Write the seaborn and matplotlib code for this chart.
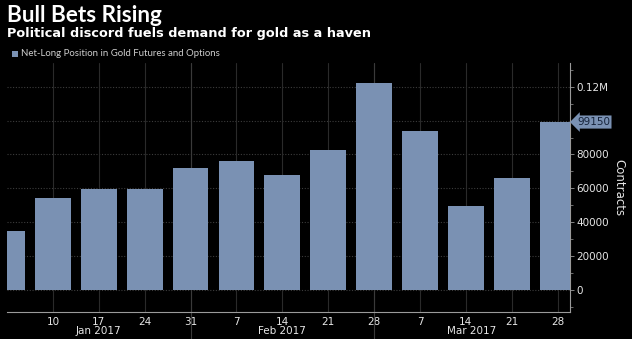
import matplotlib
matplotlib.use("Agg")
import matplotlib.pyplot as plt
from matplotlib.ticker import FixedLocator, MultipleLocator
import seaborn as sns
import pandas as pd

# Weekly net-long position (contracts) in gold futures and options
week_days = ["3", "10", "17", "24", "31", "7", "14", "21", "28", "7", "14", "21", "28"]
week_months = ["Jan", "Jan", "Jan", "Jan", "Jan", "Feb", "Feb", "Feb", "Feb",
               "Mar", "Mar", "Mar", "Mar"]
net_long = [34600, 54300, 59800, 59400, 72000, 75900, 67800, 82600, 121900,
            94000, 49700, 66100, 99150]
month_names = ["Jan 2017", "Feb 2017", "Mar 2017"]
y_ticks = [0, 20000, 40000, 60000, 80000, 100000, 120000]
y_tick_labels = ["0", "20000", "40000", "60000", "80000", "", "0.12M"]

BAR = "#7a91b3"
BG = "black"
TXT = "#e6e6e6"
AX = "#9a9a9a"

df = pd.DataFrame({
    "week": [f"{m} {d}" for m, d in zip(week_months, week_days)],
    "value": net_long,
})

sns.set_theme(style="dark")
plt.rcParams["font.family"] = ["DejaVu Sans"]

fig = plt.figure(figsize=(6.32, 3.39), dpi=100, facecolor=BG)
ax = fig.add_axes([7 / 632, 1 - 312 / 339, 563 / 632, 249 / 339])
ax.set_facecolor(BG)

sns.barplot(data=df, x="week", y="value", color=BAR, saturation=1,
            width=0.78, ax=ax, zorder=3, linewidth=0)

n = len(net_long)
x_right = (n - 1) + 0.27
ax.set_xlim(0, x_right)
ax.set_ylim(-13000, 134000)

# grid
ax.yaxis.tick_right()
ax.yaxis.set_label_position("right")
ax.yaxis.set_major_locator(FixedLocator(y_ticks))
ax.set_yticklabels(y_tick_labels)
ax.yaxis.set_minor_locator(MultipleLocator(10000))
ax.grid(False)
for yv in y_ticks:
    ax.axhline(yv, color="#3c3c3c", lw=0.8, ls=(0, (1, 1.5)), zorder=1)
for i in range(1, n):
    ax.axvline(i, color="#2a2a2a", lw=0.8, zorder=1)

# month separators run down through the date labels
sep_idx = [i for i in range(n - 1) if week_months[i] != week_months[i + 1]]
for i in sep_idx:
    ax.axvline(i, ymin=-0.12, ymax=1, color="#3a3a3a", lw=0.8, zorder=1, clip_on=False)

ax.set_xticks(range(n))
ax.set_xticklabels([""] + week_days[1:])
ax.tick_params(axis="x", colors=AX, labelcolor=TXT, labelsize=7.5, length=2,
               width=0.6, pad=1.5)
ax.tick_params(axis="y", which="major", colors=AX, labelcolor=TXT, labelsize=7.5,
               length=3, width=0.6, pad=1.5)
ax.tick_params(axis="y", which="minor", colors=AX, length=2, width=0.5, right=True, left=False)
ax.set_xlabel("")
ax.set_ylabel("Contracts", color=TXT, fontsize=8.5, rotation=270, labelpad=12)

for side in ["top", "left"]:
    ax.spines[side].set_visible(False)
for side in ["bottom", "right"]:
    ax.spines[side].set_visible(True)
    ax.spines[side].set_color(AX)
    ax.spines[side].set_linewidth(0.8)

# month labels centred on each month's visible span
bounds = [0] + sep_idx + [x_right]
trans = ax.get_xaxis_transform()
for k, name in enumerate(month_names):
    xc = (bounds[k] + bounds[k + 1]) / 2
    ax.text(xc, -0.058, name, transform=trans, ha="center", va="top",
            color=TXT, fontsize=7.5)

# last value tag on the right axis
ax.annotate(f"{net_long[-1]}", xy=(1.0, net_long[-1]), xycoords=("axes fraction", "data"),
            xytext=(5, 0), textcoords="offset points", ha="left", va="center",
            fontsize=7.5, color="#16233a",
            bbox=dict(boxstyle="larrow,pad=0.15", fc=BAR, ec="none"))

# titles and legend
fig.text(7 / 632, 1 - 5 / 339, "Bull Bets Rising", color="white", fontsize=16.2,
         fontweight="bold", ha="left", va="top", family=["Lato", "DejaVu Sans"])
fig.text(7 / 632, 1 - 27 / 339, "Political discord fuels demand for gold as a haven",
         color="white", fontsize=9.3, fontweight="bold", ha="left", va="top")
fig.patches.append(plt.Rectangle((12 / 632, 1 - 57 / 339), 6 / 632, 6 / 339,
                                 transform=fig.transFigure, fc=BAR, ec="none"))
fig.text(21 / 632, 1 - 54 / 339, "Net-Long Position in Gold Futures and Options",
         color="#cfcfcf", fontsize=6.9, ha="left", va="center",
         family=["Lato", "DejaVu Sans"])

fig.savefig("out.png", dpi=100, facecolor=BG)
